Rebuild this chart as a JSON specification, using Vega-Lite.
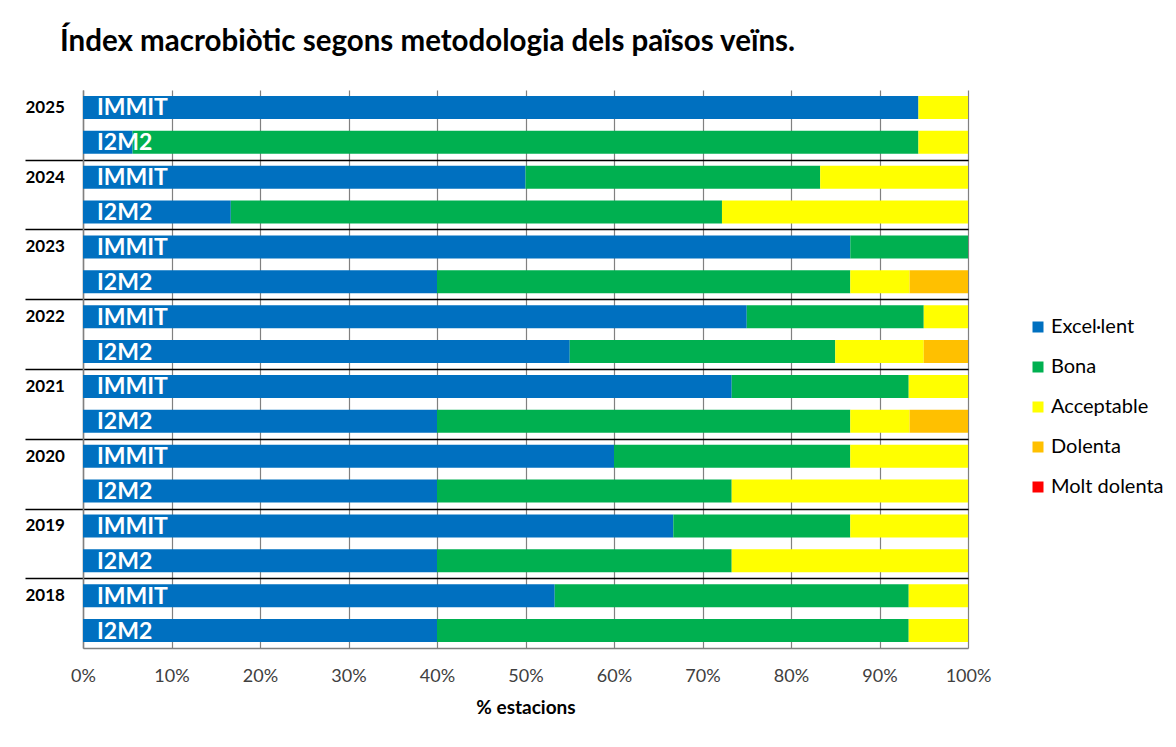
{
  "$schema": "https://vega.github.io/schema/vega-lite/v6.json",
  "width": 885,
  "height": 558,
  "autosize": "none",
  "padding": {"left": 83, "top": 90, "right": 208, "bottom": 99},
  "background": "white",
  "config": {"font": "Lato", "view": {"stroke": null}},
  "title": {
    "text": "Índex macrobiòtic segons metodologia dels països veïns.",
    "anchor": "start",
    "frame": "group",
    "dx": -23,
    "offset": 9,
    "baseline": "alphabetic",
    "font": "Lato",
    "fontSize": 29.5,
    "fontWeight": "bold",
    "color": "black"
  },
  "data": {
    "values": [
      {"r": "2025 IMMIT", "m": "IMMIT", "c": "Excel·lent", "k": 1, "v": 0.944},
      {"r": "2025 IMMIT", "m": "IMMIT", "c": "Acceptable", "k": 3, "v": 0.056},
      {"r": "2025 I2M2", "m": "I2M2", "c": "Excel·lent", "k": 1, "v": 0.056},
      {"r": "2025 I2M2", "m": "I2M2", "c": "Bona", "k": 2, "v": 0.888},
      {"r": "2025 I2M2", "m": "I2M2", "c": "Acceptable", "k": 3, "v": 0.056},
      {"r": "2024 IMMIT", "m": "IMMIT", "c": "Excel·lent", "k": 1, "v": 0.5},
      {"r": "2024 IMMIT", "m": "IMMIT", "c": "Bona", "k": 2, "v": 0.333},
      {"r": "2024 IMMIT", "m": "IMMIT", "c": "Acceptable", "k": 3, "v": 0.167},
      {"r": "2024 I2M2", "m": "I2M2", "c": "Excel·lent", "k": 1, "v": 0.167},
      {"r": "2024 I2M2", "m": "I2M2", "c": "Bona", "k": 2, "v": 0.555},
      {"r": "2024 I2M2", "m": "I2M2", "c": "Acceptable", "k": 3, "v": 0.278},
      {"r": "2023 IMMIT", "m": "IMMIT", "c": "Excel·lent", "k": 1, "v": 0.867},
      {"r": "2023 IMMIT", "m": "IMMIT", "c": "Bona", "k": 2, "v": 0.133},
      {"r": "2023 I2M2", "m": "I2M2", "c": "Excel·lent", "k": 1, "v": 0.4},
      {"r": "2023 I2M2", "m": "I2M2", "c": "Bona", "k": 2, "v": 0.467},
      {"r": "2023 I2M2", "m": "I2M2", "c": "Acceptable", "k": 3, "v": 0.067},
      {"r": "2023 I2M2", "m": "I2M2", "c": "Dolenta", "k": 4, "v": 0.066},
      {"r": "2022 IMMIT", "m": "IMMIT", "c": "Excel·lent", "k": 1, "v": 0.75},
      {"r": "2022 IMMIT", "m": "IMMIT", "c": "Bona", "k": 2, "v": 0.2},
      {"r": "2022 IMMIT", "m": "IMMIT", "c": "Acceptable", "k": 3, "v": 0.05},
      {"r": "2022 I2M2", "m": "I2M2", "c": "Excel·lent", "k": 1, "v": 0.55},
      {"r": "2022 I2M2", "m": "I2M2", "c": "Bona", "k": 2, "v": 0.3},
      {"r": "2022 I2M2", "m": "I2M2", "c": "Acceptable", "k": 3, "v": 0.1},
      {"r": "2022 I2M2", "m": "I2M2", "c": "Dolenta", "k": 4, "v": 0.05},
      {"r": "2021 IMMIT", "m": "IMMIT", "c": "Excel·lent", "k": 1, "v": 0.733},
      {"r": "2021 IMMIT", "m": "IMMIT", "c": "Bona", "k": 2, "v": 0.2},
      {"r": "2021 IMMIT", "m": "IMMIT", "c": "Acceptable", "k": 3, "v": 0.067},
      {"r": "2021 I2M2", "m": "I2M2", "c": "Excel·lent", "k": 1, "v": 0.4},
      {"r": "2021 I2M2", "m": "I2M2", "c": "Bona", "k": 2, "v": 0.467},
      {"r": "2021 I2M2", "m": "I2M2", "c": "Acceptable", "k": 3, "v": 0.067},
      {"r": "2021 I2M2", "m": "I2M2", "c": "Dolenta", "k": 4, "v": 0.066},
      {"r": "2020 IMMIT", "m": "IMMIT", "c": "Excel·lent", "k": 1, "v": 0.6},
      {"r": "2020 IMMIT", "m": "IMMIT", "c": "Bona", "k": 2, "v": 0.267},
      {"r": "2020 IMMIT", "m": "IMMIT", "c": "Acceptable", "k": 3, "v": 0.133},
      {"r": "2020 I2M2", "m": "I2M2", "c": "Excel·lent", "k": 1, "v": 0.4},
      {"r": "2020 I2M2", "m": "I2M2", "c": "Bona", "k": 2, "v": 0.333},
      {"r": "2020 I2M2", "m": "I2M2", "c": "Acceptable", "k": 3, "v": 0.267},
      {"r": "2019 IMMIT", "m": "IMMIT", "c": "Excel·lent", "k": 1, "v": 0.667},
      {"r": "2019 IMMIT", "m": "IMMIT", "c": "Bona", "k": 2, "v": 0.2},
      {"r": "2019 IMMIT", "m": "IMMIT", "c": "Acceptable", "k": 3, "v": 0.133},
      {"r": "2019 I2M2", "m": "I2M2", "c": "Excel·lent", "k": 1, "v": 0.4},
      {"r": "2019 I2M2", "m": "I2M2", "c": "Bona", "k": 2, "v": 0.333},
      {"r": "2019 I2M2", "m": "I2M2", "c": "Acceptable", "k": 3, "v": 0.267},
      {"r": "2018 IMMIT", "m": "IMMIT", "c": "Excel·lent", "k": 1, "v": 0.533},
      {"r": "2018 IMMIT", "m": "IMMIT", "c": "Bona", "k": 2, "v": 0.4},
      {"r": "2018 IMMIT", "m": "IMMIT", "c": "Acceptable", "k": 3, "v": 0.067},
      {"r": "2018 I2M2", "m": "I2M2", "c": "Excel·lent", "k": 1, "v": 0.4},
      {"r": "2018 I2M2", "m": "I2M2", "c": "Bona", "k": 2, "v": 0.533},
      {"r": "2018 I2M2", "m": "I2M2", "c": "Acceptable", "k": 3, "v": 0.067}
    ]
  },
  "encoding": {
    "y": {
      "field": "r",
      "type": "nominal",
      "sort": ["2025 IMMIT", "2025 I2M2", "2024 IMMIT", "2024 I2M2", "2023 IMMIT", "2023 I2M2", "2022 IMMIT", "2022 I2M2", "2021 IMMIT", "2021 I2M2", "2020 IMMIT", "2020 I2M2", "2019 IMMIT", "2019 I2M2", "2018 IMMIT", "2018 I2M2"],
      "scale": {"paddingInner": 0.34, "paddingOuter": 0.17},
      "axis": {
        "title": null,
        "domain": true,
        "domainColor": "#808080",
        "domainWidth": 1.5,
        "ticks": true,
        "tickSize": 58,
        "tickOffset": -17.4375,
        "labelOffset": 17.4375,
        "tickWidth": 1.5,
        "tickColor": {"condition": {"test": "indexof(datum.value,'IMMIT')>=0 && datum.value!='2025 IMMIT'", "value": "black"}, "value": "transparent"},
        "grid": true,
        "gridWidth": 1.5,
        "gridColor": {"condition": {"test": "indexof(datum.value,'IMMIT')>=0 && datum.value!='2025 IMMIT'", "value": "black"}, "value": "transparent"},
        "labelExpr": "indexof(datum.value,'IMMIT')>=0 ? slice(datum.value,0,4) : ''",
        "labelAlign": "left",
        "labelBaseline": "middle",
        "labelPadding": 0,
        "labelFont": "Lato",
        "labelFontSize": 17,
        "labelFontWeight": "bold",
        "labelColor": "black",
        "labelOverlap": false,
        "labelBound": false
      }
    }
  },
  "layer": [
    {
      "mark": {"type": "bar", "stroke": null},
      "encoding": {
        "x": {
          "field": "v",
          "type": "quantitative",
          "stack": "zero",
          "scale": {"domain": [0, 1], "nice": false},
          "axis": {
            "format": "%",
            "values": [0, 0.1, 0.2, 0.3, 0.4, 0.5, 0.6, 0.7, 0.8, 0.9, 1],
            "grid": true,
            "gridColor": "#808080",
            "gridWidth": 1.2,
            "domainColor": "#808080",
            "domainWidth": 1.5,
            "ticks": false,
            "labelFlush": false,
            "labelFont": "Lato",
            "labelFontSize": 18,
            "labelColor": "#404040",
            "labelPadding": 19,
            "title": "% estacions",
            "titleFont": "Lato",
            "titleFontSize": 19,
            "titleFontWeight": "bold",
            "titleColor": "black",
            "titlePadding": 13
          }
        },
        "order": {"field": "k", "type": "quantitative"},
        "color": {
          "field": "c",
          "type": "nominal",
          "scale": {
            "domain": ["Excel·lent", "Bona", "Acceptable", "Dolenta", "Molt dolenta"],
            "range": ["#0070C0", "#00B050", "#FFFF00", "#FFC000", "#FF0000"]
          },
          "legend": {
            "title": null,
            "orient": "none",
            "legendX": 945,
            "legendY": 227,
            "symbolType": "square",
            "symbolSize": 121,
            "symbolStrokeWidth": 0,
            "labelFont": "Lato",
            "labelFontSize": 20,
            "labelColor": "black",
            "labelOffset": 3,
            "rowPadding": 20
          }
        }
      }
    },
    {
      "transform": [{"filter": "datum.k == 1"}],
      "mark": {"type": "text", "align": "left", "baseline": "middle", "dx": 14, "dy": 1, "color": "white", "font": "Lato", "fontSize": 23, "fontWeight": "bold"},
      "encoding": {
        "x": {"datum": 0, "type": "quantitative"},
        "text": {"field": "m", "type": "nominal"}
      }
    }
  ]
}
